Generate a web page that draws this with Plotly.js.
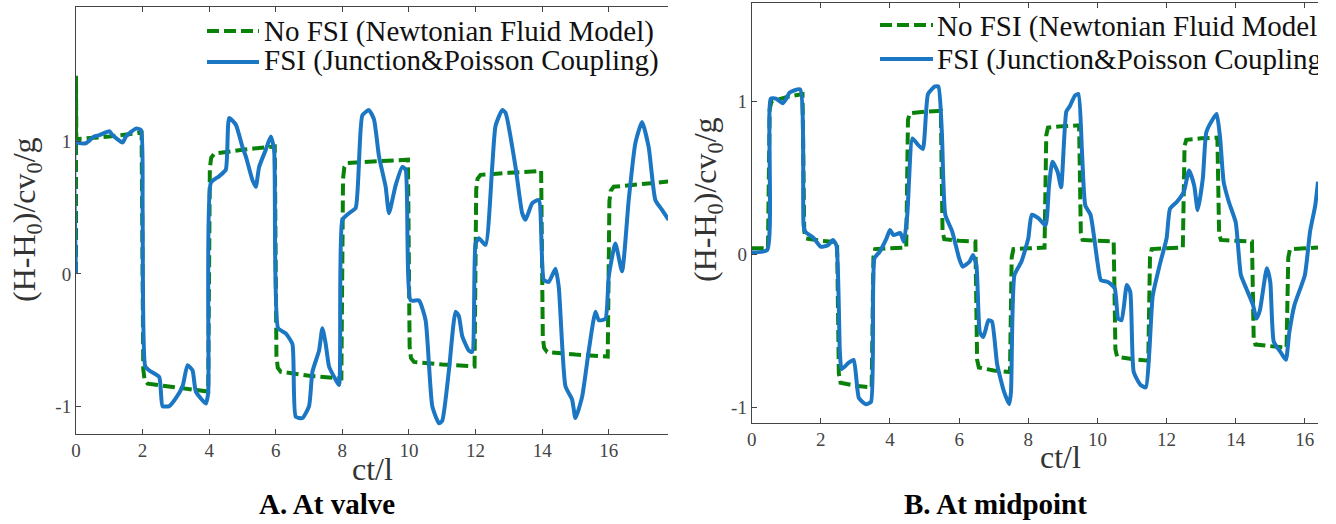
<!DOCTYPE html>
<html>
<head>
<meta charset="utf-8">
<script src="https://cdn.plot.ly/plotly-3.0.1.min.js"></script>
<style>
html,body{margin:0;padding:0;background:#fff;}
#chart{width:1318px;height:524px;}
</style>
</head>
<body>
<div id="chart"></div>
<script>
// ---------- Data ----------
// Panel A: at valve
const valveNoFsiT = [0,0,0.01,1.0,1.97,2.02,2.06,2.15,3.0,3.97,4.02,4.06,4.15,5.0,5.97,6.02,6.06,6.15,7.0,7.97,8.02,8.06,8.15,9.0,9.97,10.02,10.06,10.15,11.0,11.97,12.02,12.06,12.15,13.0,13.97,14.02,14.06,14.15,15.0,15.97,16.02,16.06,16.15,17.0,17.8];
const valveNoFsiH = [0,1.5,1.02,1.04,1.07,-0.72,-0.80,-0.83,-0.86,-0.89,0.80,0.88,0.91,0.94,0.965,-0.62,-0.71,-0.74,-0.77,-0.79,0.72,0.81,0.84,0.85,0.865,-0.55,-0.635,-0.665,-0.685,-0.70,0.64,0.72,0.75,0.765,0.78,-0.48,-0.56,-0.59,-0.61,-0.625,0.55,0.63,0.66,0.68,0.70];

const valveFsiT = [0,0,0.1,0.3,0.54,0.7,1.0,1.1,1.4,1.5,1.8,1.95,2.0,2.08,2.2,2.5,2.6,2.8,3.0,3.2,3.35,3.5,3.6,3.9,3.97,4.05,4.3,4.5,4.6,4.8,5.0,5.1,5.3,5.4,5.5,5.7,5.85,5.95,6.07,6.3,6.5,6.6,6.8,7.0,7.1,7.3,7.4,7.5,7.6,7.8,7.9,8.0,8.2,8.4,8.6,8.8,8.95,9.1,9.3,9.4,9.6,9.8,9.9,10.05,10.3,10.5,10.7,10.9,11.0,11.2,11.4,11.5,11.6,11.8,11.9,12.0,12.1,12.3,12.5,12.6,12.8,12.9,13.2,13.4,13.5,13.7,13.9,14.05,14.2,14.4,14.5,14.7,14.9,15.0,15.2,15.4,15.6,15.7,15.9,16.0,16.2,16.4,16.6,16.8,17.0,17.2,17.4,17.6,17.8];
const valveFsiH = [0,1.0,0.99,0.99,1.04,1.05,1.08,1.05,0.995,1.04,1.10,1.09,0.5,-0.70,-0.73,-0.78,-1.0,-1.0,-0.94,-0.85,-0.69,-0.73,-0.89,-0.98,-0.90,0.69,0.74,0.79,1.18,1.13,0.96,0.89,0.71,0.66,0.81,0.94,1.04,0.94,-0.41,-0.45,-0.53,-1.08,-1.09,-1.0,-0.74,-0.58,-0.41,-0.53,-0.70,-0.80,-0.84,0.41,0.46,0.50,1.20,1.24,1.17,0.89,0.66,0.46,0.67,0.81,0.79,-0.20,-0.20,-0.35,-1.0,-1.13,-1.11,-0.73,-0.285,-0.32,-0.47,-0.58,-0.59,0.23,0.27,0.22,0.81,1.12,1.24,1.22,0.81,0.46,0.41,0.535,0.56,-0.045,-0.06,0.04,-0.10,-0.85,-0.95,-1.09,-0.93,-0.58,-0.285,-0.35,-0.34,-0.02,0.23,0.02,0.56,0.99,1.15,0.96,0.56,0.485,0.41];

// Panel B: at midpoint
const midNoFsiT = [0,0.47,0.52,0.57,1.0,1.47,1.52,1.57,2.0,2.47,2.52,2.57,3.0,3.47,3.52,3.57,4.0,4.47,4.52,4.57,5.0,5.47,5.52,5.57,6.0,6.47,6.52,6.57,7.0,7.47,7.52,7.57,8.0,8.47,8.52,8.57,9.0,9.47,9.52,9.57,10.0,10.47,10.52,10.57,11.0,11.47,11.52,11.57,12.0,12.47,12.52,12.57,13.0,13.47,13.52,13.57,14.0,14.47,14.52,14.57,15.0,15.47,15.52,15.57,16.0,16.38];
const midNoFsiH = [0.04,0.04,0.95,1.0,1.03,1.05,0.15,0.105,0.09,0.08,-0.78,-0.84,-0.86,-0.87,-0.02,0.035,0.04,0.045,0.88,0.925,0.935,0.94,0.15,0.10,0.09,0.085,-0.69,-0.74,-0.76,-0.77,-0.02,0.035,0.04,0.045,0.78,0.83,0.84,0.845,0.14,0.095,0.09,0.085,-0.62,-0.67,-0.685,-0.695,-0.02,0.035,0.04,0.045,0.71,0.75,0.76,0.765,0.135,0.095,0.09,0.085,-0.55,-0.59,-0.60,-0.61,-0.02,0.035,0.04,0.045];

const midFsiT = [0,0.45,0.55,0.7,0.9,1.0,1.1,1.4,1.5,1.55,1.8,2.0,2.2,2.35,2.45,2.55,2.6,2.8,2.95,3.1,3.3,3.45,3.55,3.7,3.9,4.0,4.1,4.3,4.4,4.5,4.65,4.8,4.95,5.1,5.3,5.4,5.5,5.6,5.8,6.0,6.1,6.3,6.4,6.5,6.6,6.7,6.85,6.95,7.1,7.3,7.45,7.5,7.6,7.8,8.0,8.1,8.3,8.5,8.6,8.7,8.85,8.95,9.1,9.2,9.35,9.45,9.55,9.65,9.8,10.0,10.1,10.3,10.5,10.6,10.7,10.85,10.95,11.05,11.25,11.4,11.5,11.6,11.8,12.0,12.1,12.3,12.5,12.65,12.8,12.9,13.05,13.15,13.35,13.45,13.55,13.65,13.8,14.0,14.15,14.3,14.5,14.6,14.7,14.9,15.0,15.1,15.3,15.45,15.55,15.7,16.0,16.15,16.3,16.38];
const midFsiH = [0.013,0.03,1.02,1.02,0.99,1.02,1.06,1.08,0.19,0.15,0.105,0.05,0.06,0.094,0.06,-0.64,-0.75,-0.71,-0.69,-0.94,-0.98,-0.965,-0.026,0.017,0.105,0.16,0.127,0.14,0.083,0.26,0.76,0.72,0.69,1.05,1.10,1.10,0.80,0.26,0.15,-0.026,-0.08,-0.048,-0.004,-0.07,-0.51,-0.54,-0.43,-0.44,-0.72,-0.90,-0.98,-0.90,-0.135,-0.048,0.105,0.26,0.236,0.19,0.45,0.607,0.54,0.44,0.935,0.97,1.04,1.05,0.69,0.32,0.26,-0.048,-0.168,-0.18,-0.22,-0.42,-0.43,-0.20,-0.245,-0.77,-0.855,-0.87,-0.64,-0.27,-0.07,0.105,0.30,0.345,0.41,0.55,0.45,0.29,0.50,0.80,0.89,0.92,0.76,0.476,0.345,0.21,-0.135,-0.22,-0.33,-0.42,-0.365,-0.09,-0.18,-0.57,-0.64,-0.69,-0.51,-0.33,-0.135,0.15,0.32,0.476];

// Tick labels
const valveXTicks = [0,2,4,6,8,10,12,14,16,18];
const midXTicks = [0,2,4,6,8,10,12,14,16];
const yTickVals = [-1,0,1];
const yTickText = ['-1','0','1'];

const seriesNames = ['No FSI (Newtonian Fluid Model)', 'FSI (Junction&Poisson Coupling)'];
const panelCaptions = ['A. At valve', 'B. At midpoint'];

// ---------- Layout helpers ----------
const W = 1318, H = 524;
const px = x => x / W;
const py = y => 1 - y / H;

const GREEN = '#0a820a';
const BLUE = '#1b76c3';
const SERIF = 'Liberation Serif';

const traces = [
  {x: valveNoFsiT, y: valveNoFsiH, xaxis:'x', yaxis:'y', mode:'lines', name: seriesNames[0],
   line:{color:GREEN, width:4, dash:'12px,5px'}},
  {x: valveFsiT, y: valveFsiH, xaxis:'x', yaxis:'y', mode:'lines', name: seriesNames[1],
   line:{color:BLUE, width:4, shape:'spline', smoothing:0.5}},
  {x: midNoFsiT, y: midNoFsiH, xaxis:'x2', yaxis:'y2', mode:'lines', name: seriesNames[0],
   line:{color:GREEN, width:4, dash:'12px,5px'}},
  {x: midFsiT, y: midFsiH, xaxis:'x2', yaxis:'y2', mode:'lines', name: seriesNames[1],
   line:{color:BLUE, width:4, shape:'spline', smoothing:0.5}}
];

function axisBase() {
  return {
    showline:true, linecolor:'#444', linewidth:1,
    ticks:'inside', ticklen:5, tickwidth:1, tickcolor:'#444',
    showgrid:false, zeroline:false,
    tickfont:{family:SERIF, size:19, color:'#444'},
    fixedrange:true
  };
}

const layout = {
  width: W, height: H,
  margin:{l:0,r:0,t:0,b:0},
  paper_bgcolor:'#fff', plot_bgcolor:'#fff',
  font:{family:SERIF},
  showlegend:false,
  xaxis: Object.assign(axisBase(), {
    domain:[px(76), px(668)], range:[0,17.78], anchor:'y',
    tickvals: valveXTicks, ticktext: valveXTicks.map(String), mirror:'ticks'
  }),
  yaxis: Object.assign(axisBase(), {
    domain:[py(433.5), py(7)], range:[-1.207,2.02], anchor:'x',
    tickvals: yTickVals, ticktext: yTickText
  }),
  xaxis2: Object.assign(axisBase(), {
    domain:[px(751.7), 1], range:[0,16.38], anchor:'y2',
    tickvals: midXTicks, ticktext: midXTicks.map(String), mirror:'ticks'
  }),
  yaxis2: Object.assign(axisBase(), {
    domain:[py(422.5), py(3)], range:[-1.10,1.646], anchor:'x2',
    tickvals: yTickVals, ticktext: yTickText
  }),
  shapes: [
    {type:'line', xref:'paper', yref:'paper', x0:px(207), x1:px(259), y0:py(31), y1:py(31),
     line:{color:GREEN, width:4, dash:'12px,5px'}},
    {type:'line', xref:'paper', yref:'paper', x0:px(207), x1:px(259), y0:py(62), y1:py(62),
     line:{color:BLUE, width:4}},
    {type:'line', xref:'paper', yref:'paper', x0:px(880), x1:px(933), y0:py(25), y1:py(25),
     line:{color:GREEN, width:4, dash:'12px,5px'}},
    {type:'line', xref:'paper', yref:'paper', x0:px(880), x1:px(933), y0:py(59), y1:py(59),
     line:{color:BLUE, width:4}}
  ],
  annotations: []
};

function ann(text, x, y, opts) {
  return Object.assign({
    text: text, xref:'paper', yref:'paper', x: px(x), y: py(y),
    showarrow:false, xanchor:'center', yanchor:'middle',
    font:{family:SERIF, size:29, color:'#111'}
  }, opts || {});
}

layout.annotations.push(
  ann(seriesNames[0], 262, 31, {xanchor:'left'}),
  ann(seriesNames[1], 262, 61, {xanchor:'left'}),
  ann(seriesNames[0], 935, 26, {xanchor:'left'}),
  ann(seriesNames[1], 935, 59, {xanchor:'left'}),
  ann('ct/l', 372, 469, {font:{family:SERIF, size:32, color:'#333'}}),
  ann('ct/l', 1060, 457, {font:{family:SERIF, size:32, color:'#333'}}),
  ann('(H-H<sub>0</sub>)/cv<sub>0</sub>/g', 27, 220, {textangle:-90, font:{family:SERIF, size:32, color:'#333'}}),
  ann('(H-H<sub>0</sub>)/cv<sub>0</sub>/g', 708, 200, {textangle:-90, font:{family:SERIF, size:32, color:'#333'}}),
  ann('<b>' + panelCaptions[0] + '</b>', 327, 504, {font:{family:SERIF, size:29, color:'#000'}}),
  ann('<b>' + panelCaptions[1] + '</b>', 995, 504, {font:{family:SERIF, size:29, color:'#000'}})
);

Plotly.newPlot('chart', traces, layout, {displayModeBar:false, staticPlot:true});
</script>
</body>
</html>
